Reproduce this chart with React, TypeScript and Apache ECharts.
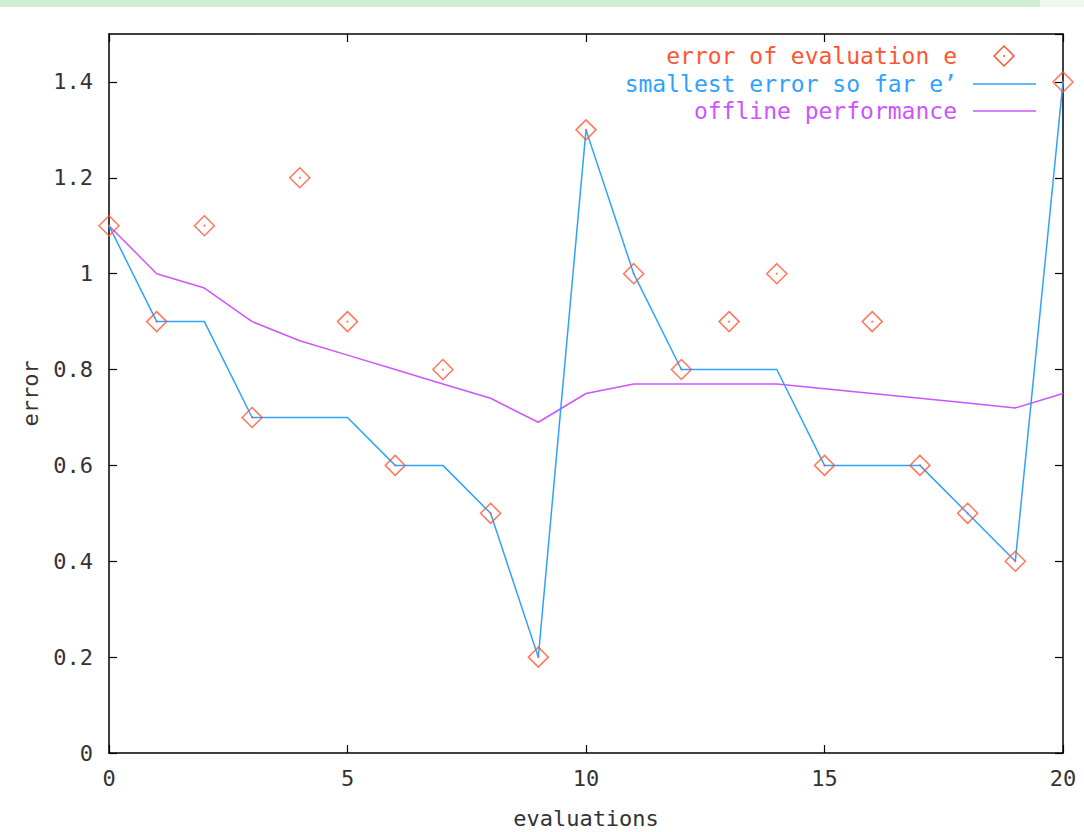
import React, { useEffect, useRef } from "react";
import * as echarts from "echarts";

const evaluations = [0, 1, 2, 3, 4, 5, 6, 7, 8, 9, 10, 11, 12, 13, 14, 15, 16, 17, 18, 19, 20];
const errorValues = [1.1, 0.9, 1.1, 0.7, 1.2, 0.9, 0.6, 0.8, 0.5, 0.2, 1.3, 1.0, 0.8, 0.9, 1.0, 0.6, 0.9, 0.6, 0.5, 0.4, 1.4];
const smallestValues = [1.1, 0.9, 0.9, 0.7, 0.7, 0.7, 0.6, 0.6, 0.5, 0.2, 1.3, 1.0, 0.8, 0.8, 0.8, 0.6, 0.6, 0.6, 0.5, 0.4, 1.4];
const offlineValues = [1.1, 1.0, 0.97, 0.9, 0.86, 0.83, 0.8, 0.77, 0.74, 0.69, 0.75, 0.77, 0.77, 0.77, 0.77, 0.76, 0.75, 0.74, 0.73, 0.72, 0.75];
const legendLabels = ["error of evaluation e", "smallest error so far e\u2019", "offline performance"];

const RED = "#ff5533";
const BLUE = "#2ea2ff";
const PURPLE = "#cc55ff";
const FONT = "DejaVu Sans Mono";

export default function App() {
  const ref = useRef<HTMLDivElement>(null);
  useEffect(() => {
    if (!ref.current) return;
    const chart = echarts.init(ref.current, null, { renderer: "svg" });
    const pair = (vals: number[]) => evaluations.map((x, i) => [x, vals[i]]);
    const axisCommon = {
      axisLine: { show: true, onZero: false, lineStyle: { color: "#000", width: 1.5 } },
      axisTick: { show: true, inside: true, length: 8, lineStyle: { color: "#000", width: 1.2 } },
      splitLine: { show: false },
    };
    const labelStyle = { color: "#333", fontFamily: FONT, fontSize: 22 };
    const legendY = [56, 84, 111];
    const legendColors = [RED, BLUE, PURPLE];
    const graphics: any[] = [
      { type: "rect", shape: { x: 0, y: 0, width: 1040, height: 7 }, style: { fill: "#cfeed3" }, silent: true },
      { type: "rect", shape: { x: 1040, y: 0, width: 44, height: 7 }, style: { fill: "#ecf8ec" }, silent: true },
    ];
    legendLabels.forEach((t, i) => {
      graphics.push({
        type: "text",
        x: 957,
        y: legendY[i],
        style: { text: t, fill: legendColors[i], font: `23px "${FONT}"`, align: "right", verticalAlign: "middle" },
      });
    });
    graphics.push({
      type: "polygon",
      shape: { points: [[1004, 46], [1014, 56], [1004, 66], [994, 56]] },
      style: { fill: "none", stroke: RED, lineWidth: 1.5 },
    });
    graphics.push({ type: "circle", shape: { cx: 1004, cy: 56, r: 1 }, style: { fill: RED } });
    graphics.push({ type: "line", shape: { x1: 973, y1: 84, x2: 1036, y2: 84 }, style: { stroke: BLUE, lineWidth: 1.5 } });
    graphics.push({ type: "line", shape: { x1: 973, y1: 111, x2: 1036, y2: 111 }, style: { stroke: PURPLE, lineWidth: 1.5 } });

    chart.setOption({
      animation: false,
      backgroundColor: "#fff",
      grid: { left: 109, right: 21, top: 34, bottom: 79, containLabel: false, outerBoundsMode: "none" },
      xAxis: [
        {
          type: "value", min: 0, max: 20, interval: 5, position: "bottom",
          name: "evaluations", nameLocation: "middle", nameGap: 54,
          nameTextStyle: labelStyle,
          axisLabel: { ...labelStyle, margin: 14 },
          ...axisCommon,
        },
        {
          type: "value", min: 0, max: 20, interval: 5, position: "top",
          axisLabel: { show: false }, ...axisCommon,
        },
      ],
      yAxis: [
        {
          type: "value", min: 0, max: 1.5, interval: 0.2, position: "left",
          name: "error", nameLocation: "middle", nameGap: 68, nameRotate: 90,
          nameTextStyle: labelStyle,
          axisLabel: {
            ...labelStyle, margin: 16, showMaxLabel: false,
            formatter: (v: number) => (v > 1.45 ? "" : String(Math.round(v * 10) / 10)),
          },
          ...axisCommon,
        },
        {
          type: "value", min: 0, max: 1.5, interval: 0.2, position: "right",
          axisLabel: { show: false }, ...axisCommon,
        },
      ],
      graphic: graphics,
      series: [
        {
          name: legendLabels[2], type: "line", data: pair(offlineValues), showSymbol: false,
          lineStyle: { color: PURPLE, width: 1.5 }, clip: false, z: 2,
        },
        {
          name: legendLabels[1], type: "line", data: pair(smallestValues), showSymbol: false,
          lineStyle: { color: BLUE, width: 1.5 }, clip: false, z: 3,
        },
        {
          name: legendLabels[0], type: "scatter", data: pair(errorValues), symbol: "diamond", symbolSize: 20,
          itemStyle: { color: "rgba(0,0,0,0)", borderColor: RED, borderWidth: 1.5 }, clip: false, z: 4,
        },
        {
          name: "dots", type: "scatter", data: pair(errorValues), symbol: "circle", symbolSize: 2,
          itemStyle: { color: RED }, clip: false, z: 5,
        },
      ],
    });
    return () => chart.dispose();
  }, []);
  return <div ref={ref} style={{ position: "absolute", left: 0, top: 0, width: 1084, height: 832 }} />;
}
